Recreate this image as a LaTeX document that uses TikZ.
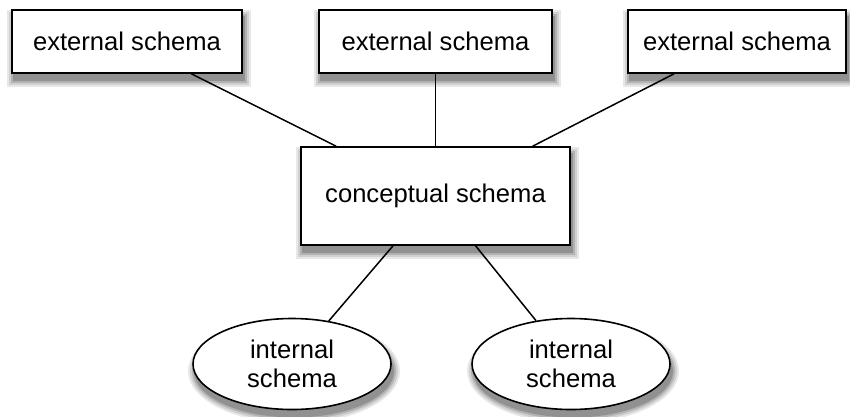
\documentclass[tikz,border=0pt]{standalone}
\usepackage{fontspec}
\setmainfont{Liberation Sans}
\usetikzlibrary{shapes.geometric,calc}
\definecolor{shA}{RGB}{232,232,232}
\definecolor{shB}{RGB}{208,208,208}
\definecolor{shC}{RGB}{178,178,178}
\definecolor{shD}{RGB}{145,145,145}
\tikzset{
  schemabox/.style={draw=black, line width=1.6pt, fill=white, rectangle, inner sep=0pt,
    minimum height=63pt, font=\fontsize{25.6}{29}\selectfont},
  schemaoval/.style={draw=black, line width=1.6pt, fill=white, ellipse, inner sep=0pt,
    minimum height=91pt, align=center, font=\fontsize{25.6}{29.5}\selectfont},
  link/.style={draw=black, line width=1.5pt}
}
% soft shadow of a rectangle: centre coordinate, half width, half height
\newcommand\softrect[3]{%
  \fill[shA] ($(#1)+(-#2-7,-#3-7)$) rectangle ($(#1)+(#2+7,#3+7)$);
  \fill[shB] ($(#1)+(-#2-5,-#3-5)$) rectangle ($(#1)+(#2+5,#3+5)$);
  \fill[shC] ($(#1)+(-#2-3,-#3-3)$) rectangle ($(#1)+(#2+3,#3+3)$);
  \fill[shD] ($(#1)+(-#2-1,-#3-1)$) rectangle ($(#1)+(#2+1,#3+1)$);}
\newcommand\softoval[3]{%
  \fill[shA] (#1) ellipse [x radius=#2+7, y radius=#3+7];
  \fill[shB] (#1) ellipse [x radius=#2+5, y radius=#3+5];
  \fill[shC] (#1) ellipse [x radius=#2+3, y radius=#3+3];
  \fill[shD] (#1) ellipse [x radius=#2+1, y radius=#3+1];}
\begin{document}
\begin{tikzpicture}[x=1pt,y=1pt]
\useasboundingbox (0,0) rectangle (850,416);
\coordinate (s1) at (129,367.5);
\coordinate (s2) at (437.5,367.5);
\coordinate (s3) at (739,367.5);
\coordinate (sc) at (437.5,213);
\coordinate (si1) at (294,45);
\coordinate (si2) at (573,45);
\softrect{s1}{115}{31.5}
\softrect{s2}{116.5}{31.5}
\softrect{s3}{109}{31.5}
\softrect{sc}{134.5}{49}
\softoval{si1}{99}{45.5}
\softoval{si2}{99}{45.5}
\node[schemabox, minimum width=230pt] (e1) at (127,374.5) {external schema};
\node[schemabox, minimum width=233pt] (e2) at (435.5,374.5) {external schema};
\node[schemabox, minimum width=218pt] (e3) at (737,374.5) {external schema};
\node[schemabox, minimum width=269pt, minimum height=98pt] (c) at (435.5,220) {conceptual schema};
\node[schemaoval, minimum width=198pt] (i1) at (292,52) {internal\\schema};
\node[schemaoval, minimum width=198pt] (i2) at (571,52) {internal\\schema};
\draw[link] (e1) -- (c);
\draw[link] (e2) -- (c);
\draw[link] (e3) -- (c);
\draw[link] (c) -- (i1);
\draw[link] (c) -- (i2);
\end{tikzpicture}
\end{document}
